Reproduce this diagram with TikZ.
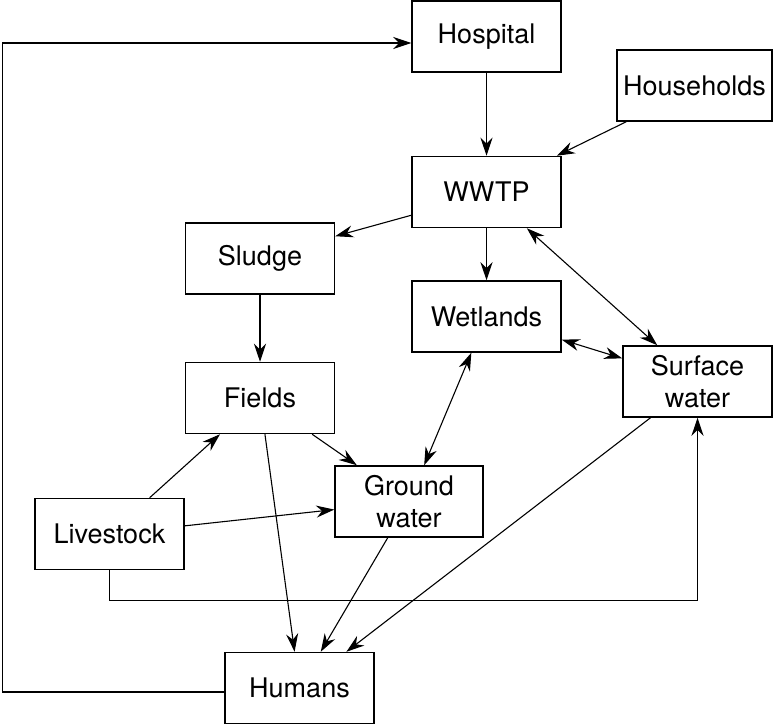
\documentclass[tikz,border=0pt]{standalone}
\usepackage{fontspec}
\setmainfont{TeX Gyre Heros}
\usetikzlibrary{arrows.meta}

\begin{document}
\begin{tikzpicture}[x=1pt, y=-1pt,
    box/.style={draw, line width=1.5pt, minimum width=149pt, minimum height=71pt,
      inner sep=2pt, align=center, font=\fontsize{27}{32}\selectfont},
    link/.style={line width=1.1pt, -{Stealth[length=18pt, width=12pt]}},
    both/.style={line width=1.1pt, {Stealth[length=18pt, width=12pt]}-{Stealth[length=18pt, width=12pt]}}]
    \useasboundingbox (0,0) rectangle (773,725);

    \node[box] (hospital) at (486.5, 36.5) {Hospital};
    \node[box, minimum width=155pt] (households) at (694.5, 85.5) {Households};
    \node[box] (wwtp) at (486.5, 192) {WWTP};
    \node[box] (sludge) at (260, 258.5) {Sludge};
    \node[box] (wetlands) at (486.5, 316.5) {Wetlands};
    \node[box] (surface) at (697.5, 381.5) {Surface\\water};
    \node[box] (fields) at (260, 398) {Fields};
    \node[box, minimum width=148pt] (ground) at (409, 501.5) {Ground\\water};
    \node[box] (livestock) at (109.5, 534) {Livestock};
    \node[box] (humans) at (299.5, 688) {Humans};

    % flows
    \draw[link] (hospital) -- (wwtp);
    \draw[link] ([xshift=10pt]households.south west) -- ([xshift=-5pt]wwtp.north east);
    \draw[link] ([yshift=13pt]wwtp.south west) -- ([yshift=-14pt]sludge.north east);
    \draw[link] (wwtp) -- (wetlands);
    \draw[both] (wwtp) -- (surface);
    \draw[both] (wetlands) -- (surface);
    \draw[both] (wetlands) -- (ground);
    \draw[link] (sludge) -- (fields);
    \draw[link] (fields) -- (ground);
    \draw[link] (fields) -- (humans);
    \draw[link] (livestock) -- (fields);
    \draw[link] (livestock) -- (ground);
    \draw[link] (ground) -- (humans);
    \draw[link] (surface) -- (humans);
    \draw[link] (livestock.south) -- ++(0,30) -| (surface.south);
    \draw[link] ([yshift=-4pt]humans.west) -- ++(-222,0) |- ([yshift=-6.5pt]hospital.west);
\end{tikzpicture}
\end{document}
